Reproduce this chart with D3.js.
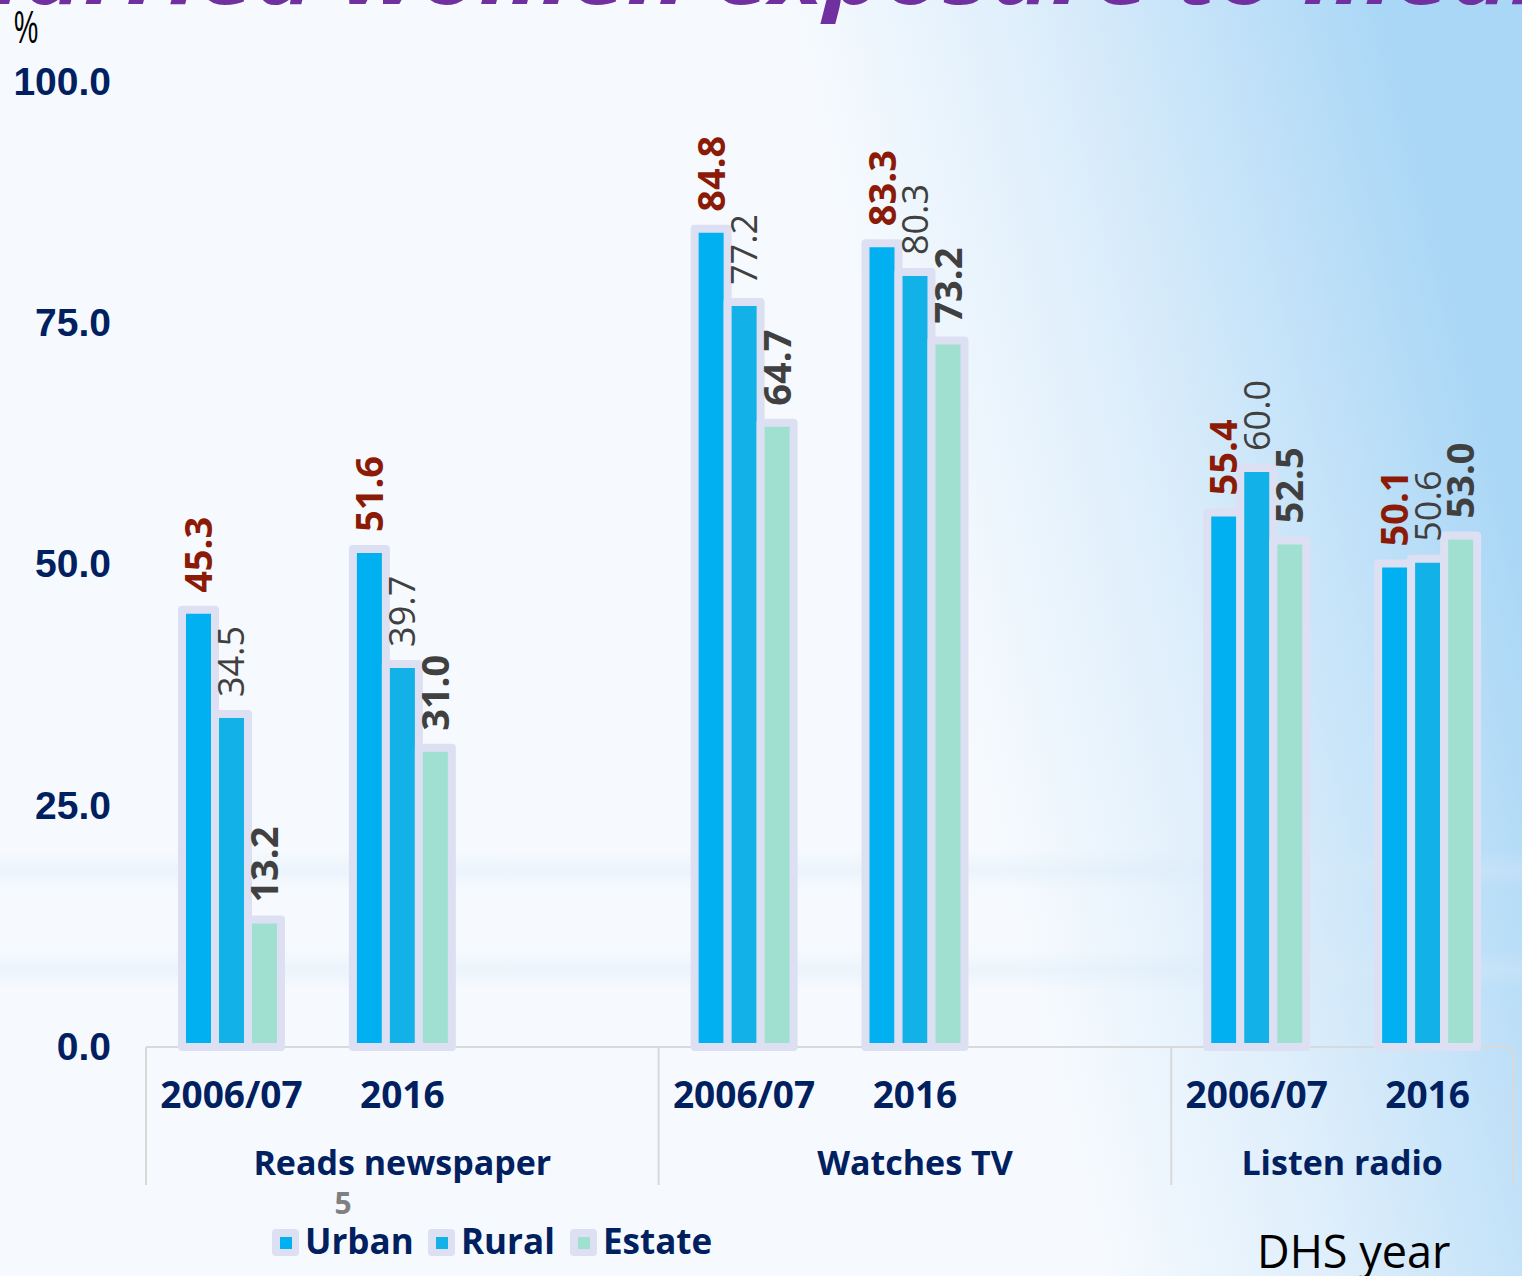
<!DOCTYPE html>
<html>
<head>
<meta charset="utf-8">
<script src="https://cdn.jsdelivr.net/npm/d3@7"></script>
<style>
  html, body { margin: 0; padding: 0; overflow: hidden; }
  svg { display: block; }
</style>
</head>
<body>
<svg id="chart" width="1522" height="1276"></svg>
<script>
// data
const groups = ['Reads newspaper', 'Watches TV', 'Listen radio']
const years = ['2006/07', '2016']
const series = ['Urban', 'Rural', 'Estate']
// order: newspaper 2006/07, 2016, TV 2006/07, 2016, radio 2006/07, 2016
const urban = [45.3, 51.6, 84.8, 83.3, 55.4, 50.1]
const rural = [34.5, 39.7, 77.2, 80.3, 60.0, 50.6]
const estate = [13.2, 31.0, 64.7, 73.2, 52.5, 53.0]
const yTicks = [0, 25, 50, 75, 100]

const colors = { Urban: '#00b0f0', Rural: '#12b2e8', Estate: '#a0e0d0' }
const labelStyle = {
  Urban: { fill: '#8b1a06', weight: 700 },
  Rural: { fill: '#404040', weight: 400 },
  Estate: { fill: '#404040', weight: 700 }
}
const navy = '#002060'
const outline = '#dde0f2'

const svg = d3.select('#chart')

// background
const defs = svg.append('defs')
const bg = defs.append('linearGradient')
  .attr('id', 'bg')
  .attr('gradientUnits', 'userSpaceOnUse')
  .attr('x1', 960).attr('y1', 700).attr('x2', 1522).attr('y2', 560)
bg.append('stop').attr('offset', 0).attr('stop-color', '#f6fafe')
bg.append('stop').attr('offset', 0.4).attr('stop-color', '#deeefb')
bg.append('stop').attr('offset', 1).attr('stop-color', '#aad7f6')
svg.append('rect').attr('width', 1522).attr('height', 1276).attr('fill', 'url(#bg)')

// faint horizontal streaks
const streak = defs.append('linearGradient').attr('id', 'streak')
  .attr('x1', 0).attr('y1', 0).attr('x2', 0).attr('y2', 1)
streak.append('stop').attr('offset', 0).attr('stop-color', '#d8e9f8').attr('stop-opacity', 0)
streak.append('stop').attr('offset', 0.5).attr('stop-color', '#d8e9f8').attr('stop-opacity', 0.35)
streak.append('stop').attr('offset', 1).attr('stop-color', '#d8e9f8').attr('stop-opacity', 0)
svg.append('rect').attr('x', 0).attr('y', 850).attr('width', 1522).attr('height', 40).attr('fill', 'url(#streak)')
svg.append('rect').attr('x', 0).attr('y', 950).attr('width', 1522).attr('height', 40).attr('fill', 'url(#streak)')

// title, mostly cut off at the top
svg.append('text')
  .attr('x', -65).attr('y', 4)
  .attr('textLength', 1665).attr('lengthAdjust', 'spacingAndGlyphs')
  .style('font-family', '"Open Sans", sans-serif')
  .style('font-size', '84px').style('font-weight', 700).style('font-style', 'italic')
  .attr('fill', '#7030a0')
  .text('Married women exposure to media')

// scales
const slots = []
groups.forEach((g, gi) => {
  years.forEach(yr => slots.push(g + '|' + yr))
  if (gi < groups.length - 1) slots.push(g + '|gap')
})
const x = d3.scaleBand().domain(slots).range([146, 1513])
const xInner = d3.scaleBand().domain(series).range([36, 36 + 99])
const y = d3.scaleLinear().domain([0, 100]).range([1047, 82])

const rows = []
groups.forEach((g, gi) => {
  years.forEach((yr, yi) => {
    const k = gi * 2 + yi
    rows.push({ slot: g + '|' + yr, year: yr, values: { Urban: urban[k], Rural: rural[k], Estate: estate[k] } })
  })
})

// y axis
const yAxis = d3.axisLeft(y)
  .tickValues(yTicks)
  .tickFormat(d3.format('.1f'))
  .tickSize(0)
  .tickPadding(35)
const ga = svg.append('g').attr('transform', 'translate(146,0)').call(yAxis)
ga.select('.domain').remove()
ga.selectAll('text')
  .attr('fill', navy)
  .style('font-family', '"Liberation Sans", Arial, sans-serif')
  .style('font-size', '39px').style('font-weight', 700)

svg.append('text')
  .attr('transform', 'translate(14,43) scale(0.58,1)')
  .style('font-family', '"Liberation Sans", Arial, sans-serif')
  .style('font-size', '47px')
  .attr('fill', '#000')
  .text('%')

// baseline and group separators
svg.append('line')
  .attr('x1', 146).attr('x2', 1513).attr('y1', y(0)).attr('y2', y(0))
  .attr('stroke', '#d9d9d9').attr('stroke-width', 2)
const bounds = [x(slots[0])].concat(groups.map((g, gi) => gi < groups.length - 1 ? x(g + '|gap') + x.bandwidth() : 1513))
svg.selectAll('.sep').data(bounds).enter().append('line')
  .attr('class', 'sep')
  .attr('x1', d => d).attr('x2', d => d)
  .attr('y1', y(0)).attr('y2', 1185)
  .attr('stroke', '#d9d9d9').attr('stroke-width', 2)

// bars
const clusters = svg.selectAll('.cluster').data(rows).enter().append('g')
  .attr('class', 'cluster')
  .attr('transform', d => 'translate(' + x(d.slot) + ',0)')

clusters.selectAll('rect')
  .data(d => series.map(s => ({ s, v: d.values[s] })))
  .enter().append('rect')
  .attr('x', d => xInner(d.s))
  .attr('width', xInner.bandwidth())
  .attr('y', d => y(d.v))
  .attr('height', d => y(0) - y(d.v))
  .attr('fill', d => colors[d.s])
  .attr('stroke', outline)
  .attr('stroke-width', 8)
  .attr('stroke-linejoin', 'round')

clusters.selectAll('.lbl')
  .data(d => series.map(s => ({ s, v: d.values[s] })))
  .enter().append('text')
  .attr('class', 'lbl')
  .attr('transform', d => 'translate(' + (xInner(d.s) + xInner.bandwidth() / 2) + ',' + (y(d.v) - 17) + ') rotate(-90)')
  .attr('dy', '0.36em')
  .attr('text-anchor', 'start')
  .style('font-family', '"Open Sans", sans-serif')
  .style('font-size', d => (d.s === 'Rural' ? 36 : 38) + 'px')
  .style('font-weight', d => labelStyle[d.s].weight)
  .attr('fill', d => labelStyle[d.s].fill)
  .text(d => d3.format('.1f')(d.v))

// category labels
svg.selectAll('.year').data(rows).enter().append('text')
  .attr('class', 'year')
  .attr('x', d => x(d.slot) + x.bandwidth() / 2)
  .attr('y', 1108)
  .attr('text-anchor', 'middle')
  .style('font-family', '"Open Sans", sans-serif')
  .style('font-size', '37px').style('font-weight', 700)
  .attr('fill', navy)
  .text(d => d.year)

svg.selectAll('.group').data(groups).enter().append('text')
  .attr('class', 'group')
  .attr('x', (d, i) => (bounds[i] + bounds[i + 1]) / 2)
  .attr('y', 1175)
  .attr('text-anchor', 'middle')
  .style('font-family', '"Open Sans", sans-serif')
  .style('font-size', '34px').style('font-weight', 700)
  .attr('fill', navy)
  .text(d => d)

// slide number
svg.append('text')
  .attr('x', 343).attr('y', 1214)
  .attr('text-anchor', 'middle')
  .style('font-family', '"Open Sans", sans-serif')
  .style('font-size', '30px').style('font-weight', 700)
  .attr('fill', '#808080')
  .text('5')

// legend
const legendX = [272, 428, 570]
const lg = svg.selectAll('.leg').data(series).enter().append('g')
  .attr('class', 'leg')
  .attr('transform', (d, i) => 'translate(' + legendX[i] + ',1229)')
lg.append('rect')
  .attr('width', 27).attr('height', 27).attr('rx', 4)
  .attr('fill', outline)
lg.append('rect')
  .attr('x', 8).attr('y', 8).attr('width', 12).attr('height', 12)
  .attr('fill', d => colors[d])
lg.append('text')
  .attr('x', 33).attr('y', 25)
  .style('font-family', '"Open Sans", sans-serif')
  .style('font-size', '35px').style('font-weight', 700)
  .attr('fill', navy)
  .text(d => d)

// axis title
svg.append('text')
  .attr('x', 1257).attr('y', 1268)
  .style('font-family', '"Open Sans", sans-serif')
  .style('font-size', '45px')
  .attr('fill', '#000')
  .text('DHS year')
</script>
</body>
</html>
